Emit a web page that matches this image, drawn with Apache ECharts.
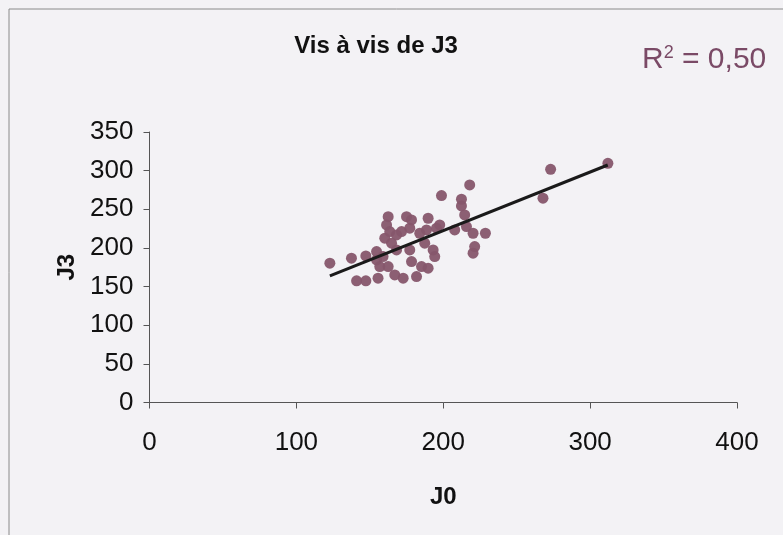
<!DOCTYPE html>
<html>
<head>
<meta charset="utf-8">
<script src="https://cdn.jsdelivr.net/npm/echarts@6/dist/echarts.min.js"></script>
<style>
html,body{margin:0;padding:0;background:#f3f2f5;}
#chart{width:783px;height:535px;}
</style>
</head>
<body>
<div id="chart"></div>
<script>
// Data
const j0Values = [122.8,137.5,141,147.3,155.6,147.3,154.6,156.8,162.5,162.5,161.4,163.6,160.2,164.8,168.2,171.6,175,178.4,177.2,168.2,177.2,178.4,167,172.7,181.8,185.2,189.7,189.7,187.4,193.1,194.2,195.4,197.6,198.8,207.8,212.4,212.4,214.6,215.8,220.3,228.7,221.4,220.3,218,154.6,159,184,188.6,273.1,267.9,312.1];
const j3Values = [180.2,186.7,157.4,157.4,160.8,189.7,184.5,175.9,175.9,240.5,229.8,221.1,212.6,206.1,216.8,221.1,240.5,236.2,225.5,197.4,197.4,182.3,165.1,160.8,162.9,175.9,173.8,238.4,206.1,197.4,188.8,225.5,229.8,267.7,223.3,263,254.3,242.7,227.6,219,219,201.7,193.2,281.5,195.3,188.8,219,223.3,301.7,264.3,309.5];
const trendX = [122.8, 312];
const trendY = [163.8, 307.3];
const xTicks = [0,100,200,300,400];
const yTicks = [0,50,100,150,200,250,300,350];
const titleText = 'Vis à vis de J3';
const r2Text = '0,50';

const points = j0Values.map((x,i)=>[x, j3Values[i]]);
const trend = trendX.map((x,i)=>[x, trendY[i]]);

const chart = echarts.init(document.getElementById('chart'));
const font = 'Liberation Sans, Arial, sans-serif';
chart.setOption({
  backgroundColor: '#f3f2f5',
  animation: false,
  graphic: [
    {type:'rect', shape:{x:9,y:9,width:800,height:560}, style:{fill:'none', stroke:'#8a8a8a', lineWidth:1}, silent:true, z:-1},
    {type:'text', left:642, top:44, style:{text:'R{s|2} = ' + r2Text, fill:'#7a4a66', font:'30px ' + font,
      rich:{s:{fontSize:18, verticalAlign:'top', padding:[0,0,14,0], fill:'#7a4a66', fontFamily:font}}}}
  ],
  title: {
    text: titleText, left: 371, top: 29, textAlign:'center',
    textStyle: {fontFamily: font, fontSize: 24, fontWeight: 'bold', color: '#111'}
  },
  grid: {left: 149.5, right: 46, top: 132, bottom: 132.5},
  xAxis: {
    type: 'value', min: xTicks[0], max: xTicks[xTicks.length-1], interval: 100,
    name: 'J0', nameLocation: 'middle', nameGap: 83,
    nameTextStyle: {fontFamily: font, fontSize: 24, fontWeight: 'bold', color: '#111'},
    axisLine: {show: true, onZero:false, lineStyle: {color: '#555', width: 1}},
    axisTick: {show: true, length: 6, inside:false, lineStyle: {color: '#555'}},
    axisLabel: {fontFamily: font, fontSize: 26, color: '#111', margin: 27},
    splitLine: {show: false}
  },
  yAxis: {
    type: 'value', min: yTicks[0], max: yTicks[yTicks.length-1], interval: 50,
    name: 'J3', nameLocation: 'middle', nameGap: 70, nameRotate: 90,
    nameTextStyle: {fontFamily: font, fontSize: 24, fontWeight: 'bold', color: '#111'},
    axisLine: {show: true, onZero:false, lineStyle: {color: '#555', width: 1}},
    axisTick: {show: true, length: 6, inside:false, lineStyle: {color: '#555'}},
    axisLabel: {fontFamily: font, fontSize: 26, color: '#111', margin: 16},
    splitLine: {show: false}
  },
  series: [
    {type: 'scatter', data: points, symbol: 'circle', symbolSize: 11,
     itemStyle: {color: '#86566c', opacity: 0.95}},
    {type: 'line', data: trend, symbol: 'none', lineStyle: {color: '#1a1a1a', width: 3}, z: 3}
  ]
});
</script>
</body>
</html>
